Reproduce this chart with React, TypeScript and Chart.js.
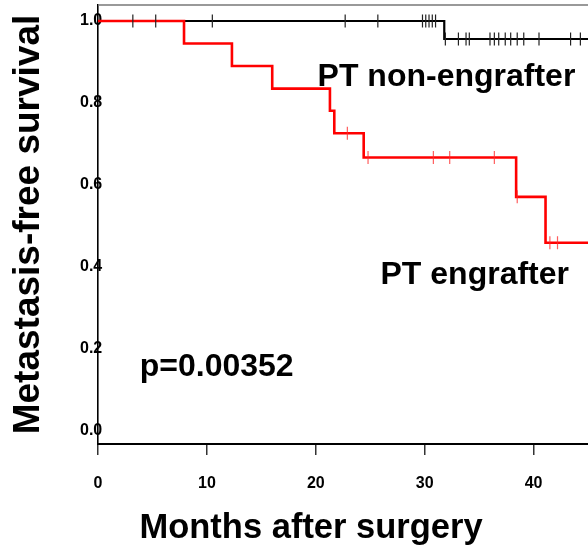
import React, { useEffect, useRef } from "react";
import { Chart, registerables } from "chart.js";

Chart.register(...registerables);

// ---- data ----
const X_MIN = 0;
const X_MAX = 45;
const Y_MIN = -0.032;
const Y_MAX = 1.039;
const xTickValues = [0, 10, 20, 30, 40];
const yTickValues = [0, 0.2, 0.4, 0.6, 0.8, 1.0];

// PT engrafter (red) Kaplan-Meier steps
const redTimes = [0, 7.9, 12.3, 16.0, 21.3, 21.7, 24.4, 38.4, 41.1];
const redSurv = [1.0, 0.945, 0.89, 0.835, 0.781, 0.726, 0.667, 0.571, 0.459];
const redCensor = [22.9, 24.8, 30.8, 32.3, 36.4, 38.5, 41.5, 42.2];

// PT non-engrafter (black)
const blackTimes = [0, 31.8];
const blackSurv = [1.0, 0.956];
const blackCensor = [
  3.2, 5.3, 10.5, 22.7, 25.7, 29.8, 30.1, 30.4, 30.7, 31.0, 31.9, 33.1, 33.8,
  34.1, 36.0, 36.4, 36.8, 37.4, 37.9, 38.5, 39.1, 40.5, 43.4, 44.3,
];

const yTitle = "Metastasis-free survival";
const xTitle = "Months after surgery";
const annotations = [
  { text: "PT non-engrafter", x: 32.0, y: 0.863, size: 32 },
  { text: "PT engrafter", x: 34.6, y: 0.38, size: 32 },
  { text: "p=0.00352", x: 10.9, y: 0.156, size: 32 },
];

const BOLD = "'Liberation Sans', Arial, Helvetica, sans-serif";

function stepPoints(times: number[], surv: number[]) {
  const pts = times.map((t, i) => ({ x: t, y: surv[i] }));
  pts.push({ x: X_MAX, y: surv[surv.length - 1] });
  return pts;
}
function survAt(times: number[], surv: number[], t: number) {
  let v = surv[0];
  for (let i = 0; i < times.length; i++) if (times[i] <= t) v = surv[i];
  return v;
}
function censorPoints(c: number[], times: number[], surv: number[]) {
  return c.map((t) => ({ x: t, y: survAt(times, surv, t) }));
}

const framePlugin = {
  id: "frame",
  afterDraw(chart: any) {
    const { ctx, chartArea, scales } = chart;
    ctx.save();
    ctx.strokeStyle = "#777";
    ctx.lineWidth = 1.5;
    ctx.beginPath();
    ctx.moveTo(chartArea.left, chartArea.top);
    ctx.lineTo(chartArea.right, chartArea.top);
    ctx.stroke();
    ctx.fillStyle = "#000";
    ctx.textAlign = "center";
    ctx.textBaseline = "middle";
    for (const a of annotations) {
      ctx.font = `bold ${a.size}px ${BOLD}`;
      ctx.fillText(a.text, scales.x.getPixelForValue(a.x), scales.y.getPixelForValue(a.y));
    }
    // x-axis title, centred under the whole figure like the original
    ctx.font = `bold 34.5px ${BOLD}`;
    ctx.fillText(xTitle, chart.width * 0.529, chart.height - 22);
    ctx.restore();
  },
};

export default function App() {
  const ref = useRef<HTMLCanvasElement>(null);
  useEffect(() => {
    document.body.style.margin = "0";
    const chart = new Chart(ref.current!, {
      type: "line",
      data: {
        datasets: [
          {
            label: "red censor",
            type: "scatter",
            data: censorPoints(redCensor, redTimes, redSurv),
            pointStyle: "line",
            rotation: 90,
            pointRadius: 6.5,
            pointBorderWidth: 1.2,
            borderColor: "rgba(255,40,40,0.75)",
            backgroundColor: "rgba(255,40,40,0.75)",
            showLine: false,
            order: -1,
          } as any,
          {
            label: "black censor",
            type: "scatter",
            data: censorPoints(blackCensor, blackTimes, blackSurv),
            pointStyle: "line",
            rotation: 90,
            pointRadius: 6.5,
            pointBorderWidth: 1.2,
            borderColor: "#222",
            backgroundColor: "#222",
            showLine: false,
            order: -2,
          } as any,
          {
            label: "PT engrafter",
            data: stepPoints(redTimes, redSurv),
            stepped: true,
            borderColor: "#ff0000",
            borderWidth: 2.6,
            pointRadius: 0,
            fill: false,
            order: 0,
          },
          {
            label: "PT non-engrafter",
            data: stepPoints(blackTimes, blackSurv),
            stepped: true,
            borderColor: "#000",
            borderWidth: 2.2,
            pointRadius: 0,
            fill: false,
            order: 1,
          },
        ],
      },
      options: {
        animation: false,
        responsive: false,
        maintainAspectRatio: false,
        layout: { autoPadding: false, padding: { top: 5, left: 0, right: 0, bottom: 0 } },
        plugins: { legend: { display: false }, tooltip: { enabled: false } },
        scales: {
          x: {
            type: "linear",
            min: X_MIN,
            max: X_MAX,
            afterBuildTicks: (s: any) => {
              s.ticks = xTickValues.map((v) => ({ value: v }));
            },
            afterFit: (s: any) => {
              s.height = 106;
              s.paddingLeft = 0;
              s.paddingRight = 0;
            },
            grid: {
              drawOnChartArea: false,
              drawTicks: true,
              tickLength: 11,
              color: "#333",
              lineWidth: 1.5,
            },
            border: { display: true, color: "#000", width: 2 },
            ticks: {
              padding: 19,
              color: "#000",
              font: { family: BOLD, size: 16, weight: "bold" },
              callback: (v: any) => String(v),
            },
            title: { display: false, text: xTitle },
          },
          y: {
            type: "linear",
            min: Y_MIN,
            max: Y_MAX,
            afterBuildTicks: (s: any) => {
              s.ticks = yTickValues.map((v) => ({ value: v }));
            },
            afterFit: (s: any) => {
              s.width = 98;
              s.paddingTop = 0;
              s.paddingBottom = 0;
            },
            grid: { display: false, drawTicks: false, drawOnChartArea: false },
            border: { display: true, color: "#000", width: 1.6 },
            ticks: {
              mirror: true,
              crossAlign: "near",
              padding: -18,
              color: "#000",
              font: { family: BOLD, size: 16, weight: "bold" },
              callback: (v: any) => Number(v).toFixed(1),
            },
            title: {
              display: true,
              text: yTitle,
              color: "#000",
              font: { family: BOLD, size: 37, weight: "bold" },
              padding: { top: 7, bottom: 0 },
            },
          },
        },
      },
      plugins: [framePlugin],
    });
    return () => chart.destroy();
  }, []);
  return (
    <div style={{ width: 588, height: 550 }}>
      <canvas ref={ref} width={588} height={550} style={{ display: "block" }} />
    </div>
  );
}
